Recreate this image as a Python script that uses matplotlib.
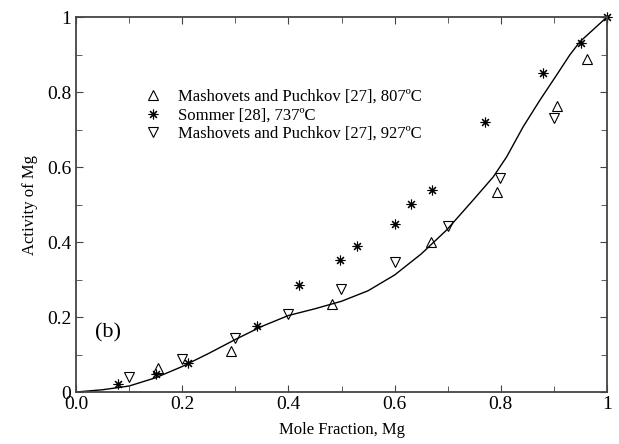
import numpy as np
import matplotlib.pyplot as plt
from matplotlib.ticker import MultipleLocator

# Mashovets and Puchkov [27], 807 C
x_807 = [0.154, 0.292, 0.483, 0.669, 0.792, 0.906, 0.962]
y_807 = [0.065, 0.109, 0.234, 0.400, 0.534, 0.763, 0.887]

# Sommer [28], 737 C
x_737 = [0.080, 0.150, 0.210, 0.340, 0.420, 0.498, 0.530, 0.601, 0.631, 0.671, 0.770, 0.880, 0.951, 1.0]
y_737 = [0.021, 0.048, 0.078, 0.176, 0.285, 0.351, 0.389, 0.449, 0.502, 0.540, 0.719, 0.850, 0.930, 1.0]

# Mashovets and Puchkov [27], 927 C
x_927 = [0.100, 0.199, 0.299, 0.400, 0.499, 0.600, 0.700, 0.799, 0.900]
y_927 = [0.039, 0.087, 0.145, 0.207, 0.276, 0.347, 0.443, 0.572, 0.730]

# calculated curve
x_calc = [0.0, 0.05, 0.1, 0.15, 0.2, 0.25, 0.3, 0.35, 0.4, 0.45, 0.5, 0.55, 0.6,
          0.65, 0.698, 0.748, 0.786, 0.811, 0.842, 0.874, 0.905, 0.93, 0.949, 1.0]
y_calc = [0.0, 0.006, 0.016, 0.038, 0.068, 0.103, 0.140, 0.175, 0.204, 0.222, 0.242,
          0.270, 0.312, 0.368, 0.432, 0.512, 0.574, 0.627, 0.707, 0.779, 0.845, 0.899,
          0.934, 1.0]

plt.rcParams['font.family'] = ['Liberation Serif', 'DejaVu Serif']

fig = plt.figure(figsize=(6.19, 4.44), dpi=100)
ax = fig.add_axes([0.1228, 0.1171, 0.8578, 0.8446])

ax.plot(x_calc, y_calc, color="black", linewidth=1.0)
ax.plot(x_807, y_807, linestyle="none", marker="^", markersize=7,
        markerfacecolor="none", markeredgecolor="black", markeredgewidth=0.8,
        label="Mashovets and Puchkov [27], 807ºC", clip_on=False)
ax.plot(x_737, y_737, linestyle="none", marker=(8, 2, 0), markersize=7,
        color="black", markeredgewidth=0.8,
        label="Sommer [28], 737ºC", clip_on=False)
ax.plot(x_927, y_927, linestyle="none", marker="v", markersize=7,
        markerfacecolor="none", markeredgecolor="black", markeredgewidth=0.8,
        label="Mashovets and Puchkov [27], 927ºC", clip_on=False)

ax.text(0.06, 0.157, "(b)", fontsize=16, ha="center", va="center")

ax.legend(loc="upper left", bbox_to_anchor=(0.11, 0.83), frameon=False,
          fontsize=12, handlelength=1.2, handletextpad=0.9, labelspacing=0.15,
          borderpad=0)

ax.set_xlim(0, 1)
ax.set_ylim(0, 1)
ax.xaxis.set_minor_locator(MultipleLocator(0.1))
ax.yaxis.set_minor_locator(MultipleLocator(0.1))
ax.set_xticks([0, 0.2, 0.4, 0.6, 0.8, 1.0])
ax.set_xticklabels(["0.0", "0.2", "0.4", "0.6", "0.8", "1"])
ax.set_yticks([0, 0.2, 0.4, 0.6, 0.8, 1.0])
ax.set_yticklabels(["0", "0.2", "0.4", "0.6", "0.8", "1"])
ax.tick_params(which="both", direction="in", top=True, right=True,
               labelsize=14, color="#444444")
ax.tick_params(which="major", length=5)
ax.tick_params(which="minor", length=4)
ax.tick_params(axis="x", pad=3)
for s in ax.spines.values():
    s.set_color("#444444")
    s.set_linewidth(1.3)

ax.set_xlabel("Mole Fraction, Mg", fontsize=12, labelpad=6)
ax.set_ylabel("Activity of Mg", fontsize=12, labelpad=6)

fig.savefig("out.png", dpi=100)
